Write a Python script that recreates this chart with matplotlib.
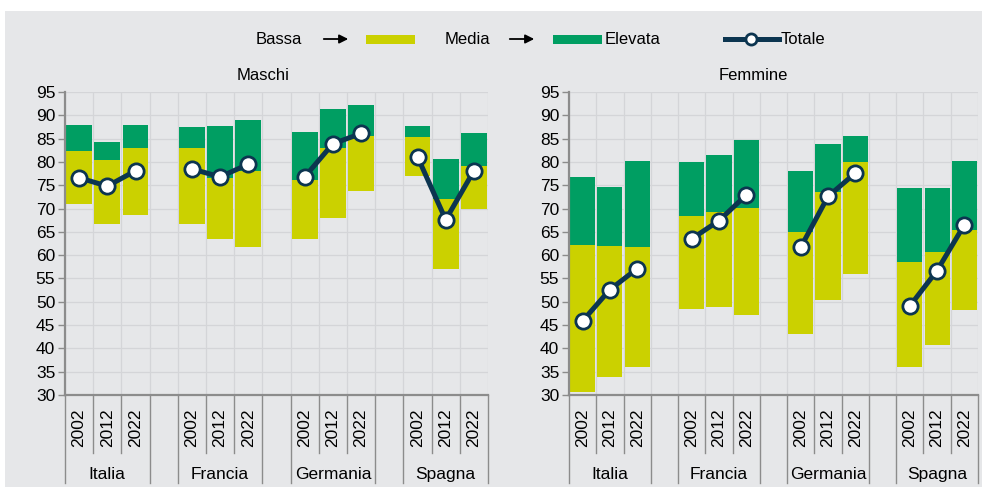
import numpy as np
import matplotlib
matplotlib.use("Agg")
import matplotlib.pyplot as plt
from matplotlib.lines import Line2D
from matplotlib.patches import Rectangle, FancyArrowPatch

plt.rcParams['font.family'] = ['Liberation Sans', 'DejaVu Sans']

countries = ["Italia", "Francia", "Germania", "Spagna"]
years = ["2002", "2012", "2022"]

# bassa = bottom of yellow bar, media = top of yellow, elevata = top of green
maschi_bassa = [70.9, 66.6, 68.6, 66.6, 63.4, 61.7, 63.4, 67.9, 73.8, 76.9, 57.1, 69.9]
maschi_media = [82.4, 80.4, 82.9, 82.9, 76.5, 78.0, 76.2, 83.0, 85.6, 85.4, 72.0, 79.1]
maschi_elevata = [87.9, 84.3, 88.0, 87.4, 87.6, 88.9, 86.4, 91.4, 92.2, 87.6, 80.7, 86.3]
maschi_totale = [76.6, 74.8, 78.1, 78.5, 76.8, 79.5, 76.8, 83.9, 86.1, 81.1, 67.6, 78.1]

femmine_bassa = [30.7, 33.9, 36.1, 48.5, 48.9, 47.2, 43.1, 50.4, 56.0, 35.9, 40.7, 48.3]
femmine_media = [62.1, 61.9, 61.7, 68.5, 69.2, 70.2, 64.9, 73.6, 80.0, 58.6, 60.7, 65.4]
femmine_elevata = [76.8, 74.6, 80.2, 80.0, 81.4, 84.6, 78.1, 83.9, 85.6, 74.3, 74.4, 80.3]
femmine_totale = [45.9, 52.6, 57.1, 63.5, 67.4, 72.9, 61.7, 72.6, 77.6, 49.1, 56.7, 66.5]

BG = "#e6e7e9"
GRID = "#d4d5d8"
AXC = "#8c8c8c"
YELLOW = "#cbd100"
GREEN = "#009e62"
NAVY = "#0c3550"

W, H = 982, 491
fig = plt.figure(figsize=(W / 100, H / 100), dpi=100, facecolor="white")


def px(x, y):
    return x / W, 1 - y / H


# grey panel behind everything
fig.add_artist(Rectangle(px(5, 487), (W - 5) / W, 476 / H, transform=fig.transFigure,
                         facecolor=BG, edgecolor="none", zorder=-10))


def draw_panel(ax, bassa, media, elevata, totale):
    ax.set_facecolor(BG)
    ng = len(countries)
    ny = len(years)
    xs = np.array([g * (ny + 1) + j for g in range(ng) for j in range(ny)])
    bassa = np.array(bassa)
    media = np.array(media)
    elevata = np.array(elevata)
    ax.bar(xs, media - bassa, bottom=bassa, width=0.92, color=YELLOW, zorder=2)
    ax.bar(xs, elevata - media, bottom=media, width=0.92, color=GREEN, zorder=2)
    for g in range(ng):
        sl = slice(g * ny, (g + 1) * ny)
        ax.plot(xs[sl], np.array(totale)[sl], color=NAVY, lw=3.6, zorder=3,
                marker="o", ms=11, mfc="white", mec=NAVY, mew=2)

    nslots = ng * (ny + 1) - 1
    ax.set_xlim(-0.5, nslots - 0.5)
    ax.set_ylim(30, 95)
    ax.set_yticks(np.arange(30, 96, 5))
    ax.set_xticks([])
    ax.tick_params(axis="y", labelsize=12.5, length=5, width=1, color=AXC, pad=2)
    for s in ["top", "right"]:
        ax.spines[s].set_visible(False)
    for s in ["left", "bottom"]:
        ax.spines[s].set_color(AXC)
        ax.spines[s].set_linewidth(1.6)

    for yv in range(35, 96, 5):
        ax.axhline(yv, color=GRID, lw=0.9, zorder=0)
    for b in np.arange(-0.5, nslots, 1.0):
        ax.axvline(b, color=GRID, lw=0.9, zorder=0)

    # category axis: year labels, separators and country labels
    tr = ax.get_xaxis_transform()
    for g in range(ng):
        start = g * (ny + 1) - 0.5
        end = start + ny
        for b in (start, end):
            ax.plot([b, b], [0, -0.29], transform=tr, color=AXC, lw=1, clip_on=False)
        for j in range(1, ny):
            ax.plot([start + j] * 2, [0, -0.19], transform=tr, color=AXC, lw=1, clip_on=False)
        for j, yr in enumerate(years):
            ax.text(start + 0.5 + j, -0.108, yr, transform=tr, rotation=90,
                    ha="center", va="center", fontsize=12.5)
        ax.text((start + end) / 2, -0.262, countries[g], transform=tr,
                ha="center", va="center", fontsize=12.5)


ax1 = fig.add_axes([65 / W, 1 - 395 / H, 423 / W, 303 / H])
ax2 = fig.add_axes([569 / W, 1 - 395 / H, 409 / W, 303 / H])
draw_panel(ax1, maschi_bassa, maschi_media, maschi_elevata, maschi_totale)
draw_panel(ax2, femmine_bassa, femmine_media, femmine_elevata, femmine_totale)

fig.text(*px(263, 75), "Maschi", ha="center", va="center", fontsize=12)
fig.text(*px(753, 75), "Femmine", ha="center", va="center", fontsize=12)

# legend row
ly = 39
fig.text(*px(279, ly), "Bassa", ha="center", va="center", fontsize=12)
fig.add_artist(FancyArrowPatch(px(321, ly), px(351, ly), transform=fig.transFigure,
                               arrowstyle="-|>", mutation_scale=13, lw=1.3, color="black"))
fig.add_artist(Rectangle(px(366, 44), 49 / W, 9 / H, transform=fig.transFigure,
                         facecolor=YELLOW, edgecolor="none"))
fig.text(*px(467, ly), "Media", ha="center", va="center", fontsize=12)
fig.add_artist(FancyArrowPatch(px(507, ly), px(537, ly), transform=fig.transFigure,
                               arrowstyle="-|>", mutation_scale=13, lw=1.3, color="black"))
fig.add_artist(Rectangle(px(553, 44), 49 / W, 9 / H, transform=fig.transFigure,
                         facecolor=GREEN, edgecolor="none"))
fig.text(*px(605, ly), "Elevata", ha="left", va="center", fontsize=12)
fig.add_artist(Line2D([725 / W, 779 / W], [1 - ly / H] * 2, transform=fig.transFigure,
                      color=NAVY, lw=3.6))
fig.add_artist(Line2D([751 / W], [1 - ly / H], transform=fig.transFigure, marker="o",
                      ms=8, mfc="white", mec=NAVY, mew=2, color=NAVY))
fig.text(*px(781, ly), "Totale", ha="left", va="center", fontsize=12)

fig.savefig("out.png", dpi=100, facecolor="white")
